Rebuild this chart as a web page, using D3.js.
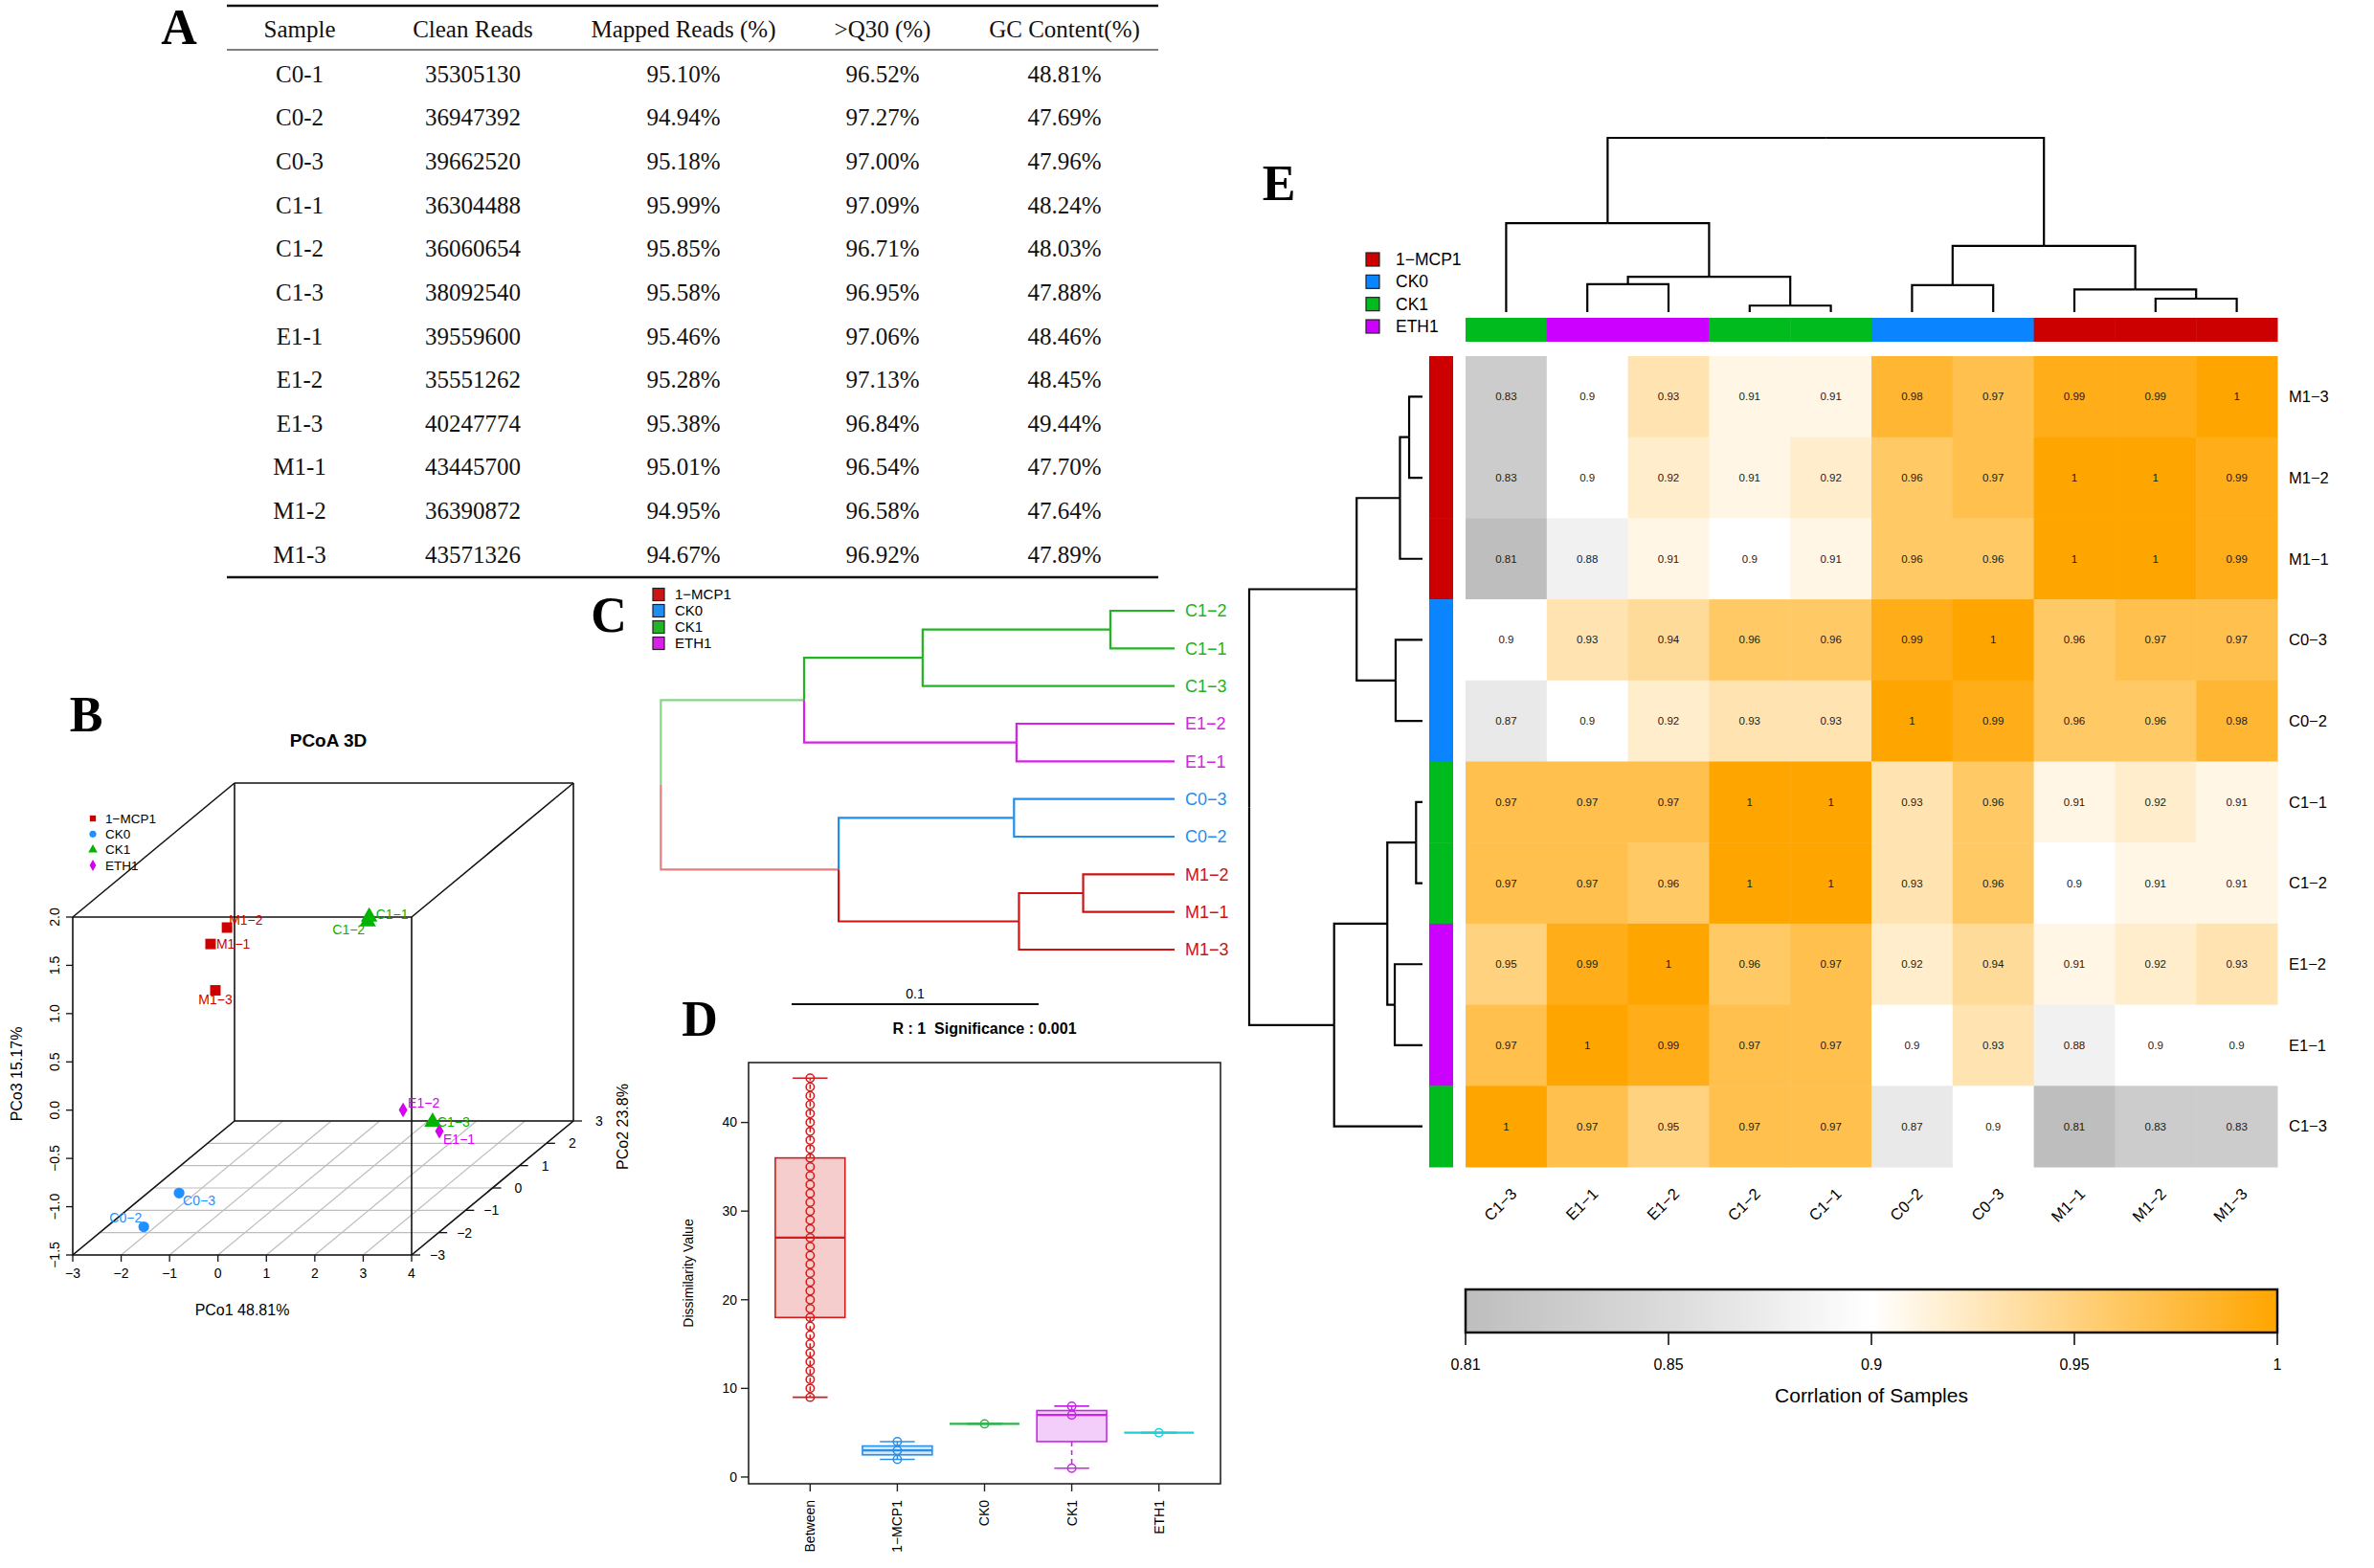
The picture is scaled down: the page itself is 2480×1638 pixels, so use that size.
<!DOCTYPE html>
<html><head><meta charset="utf-8">
<script src="https://cdn.jsdelivr.net/npm/d3@7"></script>
<style>body{margin:0;background:#fff}svg{display:block}</style>
</head><body>
<script>
// ================= DATA =================
// Panel A – sequencing table
const tableHeaders = ["Sample","Clean Reads","Mapped Reads (%)",">Q30 (%)","GC Content(%)"];
const tableSamples = ["C0-1","C0-2","C0-3","C1-1","C1-2","C1-3","E1-1","E1-2","E1-3","M1-1","M1-2","M1-3"];
const cleanReads = [35305130,36947392,39662520,36304488,36060654,38092540,39559600,35551262,40247774,43445700,36390872,43571326];
const mappedReads = [95.10,94.94,95.18,95.99,95.85,95.58,95.46,95.28,95.38,95.01,94.95,94.67];
const q30Rates = [96.52,97.27,97.00,97.09,96.71,96.95,97.06,97.13,96.84,96.54,96.58,96.92];
const gcContent = [48.81,47.69,47.96,48.24,48.03,47.88,48.46,48.45,49.44,47.70,47.64,47.89];

// Groups
const groups = ["1−MCP1","CK0","CK1","ETH1"];
const samplePrefixGroup = {"M1":"1−MCP1","C0":"CK0","C1":"CK1","E1":"ETH1"};

// Panel B – PCoA 3D
const pcoaSamples = ["M1−1","M1−2","M1−3","C0−2","C0−3","C1−1","C1−2","C1−3","E1−1","E1−2"];
const pco1 = [-2.66,-2.32,-2.56,-2.09,-1.36,0.06,0.03,3.04,3.46,2.71];
const pco2 = [1.5,1.5,1.5,-2,-2,2.5,2.5,-0.5,-1,-1];
const pco3 = [0.68,0.85,0.20,-1.44,-1.09,0.73,0.68,-0.70,-0.68,-0.46];
const pco1Ticks = [-3,-2,-1,0,1,2,3,4];
const pco2Ticks = [-3,-2,-1,0,1,2,3];
const pco3Ticks = [-1.5,-1.0,-0.5,0.0,0.5,1.0,1.5,2.0];

// Panel C – sample clustering tree (branch heights in distance units)
const treeC = {h:0.208, children:[
  {h:0.150, children:[
    {h:0.102, children:[{h:0.026, children:[{name:"C1−2"},{name:"C1−1"}]},{name:"C1−3"}]},
    {h:0.064, children:[{name:"E1−2"},{name:"E1−1"}]}
  ]},
  {h:0.136, children:[
    {h:0.065, children:[{name:"C0−3"},{name:"C0−2"}]},
    {h:0.063, children:[{h:0.037, children:[{name:"M1−2"},{name:"M1−1"}]},{name:"M1−3"}]}
  ]}
]};
const scaleBarValue = 0.1;

// Panel D – ANOSIM ranks
const anosimGroups = ["Between","1−MCP1","CK0","CK1","ETH1"];
const rankBetween = [9,10,11,12,13,14,15,16,17,18,19,20,21,22,23,24,25,26,27,28,29,30,31,32,33,34,35,36,37,38,39,40,41,42,43,44,45];
const rankMCP = [2,3,4];
const rankCK0 = [6];
const rankCK1 = [1,7,8];
const rankETH = [5];
const anosimTicks = [0,10,20,30,40];
const anosimTitle = "R : 1  Significance : 0.001";

// Panel E – correlation heatmap
const heatCols = ["C1−3","E1−1","E1−2","C1−2","C1−1","C0−2","C0−3","M1−1","M1−2","M1−3"];
const heatRows = ["M1−3","M1−2","M1−1","C0−3","C0−2","C1−1","C1−2","E1−2","E1−1","C1−3"];
const corrValues = [
  [0.83,0.9,0.93,0.91,0.91,0.98,0.97,0.99,0.99,1],
  [0.83,0.9,0.92,0.91,0.92,0.96,0.97,1,1,0.99],
  [0.81,0.88,0.91,0.9,0.91,0.96,0.96,1,1,0.99],
  [0.9,0.93,0.94,0.96,0.96,0.99,1,0.96,0.97,0.97],
  [0.87,0.9,0.92,0.93,0.93,1,0.99,0.96,0.96,0.98],
  [0.97,0.97,0.97,1,1,0.93,0.96,0.91,0.92,0.91],
  [0.97,0.97,0.96,1,1,0.93,0.96,0.9,0.91,0.91],
  [0.95,0.99,1,0.96,0.97,0.92,0.94,0.91,0.92,0.93],
  [0.97,1,0.99,0.97,0.97,0.9,0.93,0.88,0.9,0.9],
  [1,0.97,0.95,0.97,0.97,0.87,0.9,0.81,0.83,0.83]
];
const colTree = {h:1.0, children:[
  {h:0.51, children:[
    {name:"C1−3"},
    {h:0.203, children:[
      {h:0.16, children:[{name:"E1−1"},{name:"E1−2"}]},
      {h:0.037, children:[{name:"C1−2"},{name:"C1−1"}]}
    ]}
  ]},
  {h:0.38, children:[
    {h:0.155, children:[{name:"C0−2"},{name:"C0−3"}]},
    {h:0.13, children:[{name:"M1−1"},{h:0.077, children:[{name:"M1−2"},{name:"M1−3"}]}]}
  ]}
]};
const rowTree = {h:1.0, children:[
  {h:0.38, children:[
    {h:0.13, children:[{h:0.077, children:[{name:"M1−3"},{name:"M1−2"}]},{name:"M1−1"}]},
    {h:0.155, children:[{name:"C0−3"},{name:"C0−2"}]}
  ]},
  {h:0.51, children:[
    {h:0.203, children:[
      {h:0.037, children:[{name:"C1−1"},{name:"C1−2"}]},
      {h:0.16, children:[{name:"E1−2"},{name:"E1−1"}]}
    ]},
    {name:"C1−3"}
  ]}
]};
const legendTicks = [0.81,0.85,0.9,0.95,1];
const legendTitle = "Corrlation of Samples";

// ================= STYLE =================
const SERIF = "'Liberation Serif','Times New Roman',serif";
const SANS = "'Liberation Sans',Arial,Helvetica,sans-serif";
const colorB = d3.scaleOrdinal(groups, ["#CC0000","#1E90FF","#00B400","#D400F0"]);
const colorC = d3.scaleOrdinal(groups, ["#CC1414","#1E8FF0","#22B422","#D820E8"]);
const colorE = d3.scaleOrdinal(groups, ["#CC0000","#0A85FF","#00BB1E","#CC00FF"]);
const colorD = d3.scaleOrdinal(anosimGroups, ["#D01C1C","#2A8FE8","#2DB34A","#CC22EE","#22CCD6"]);
const symbolB = d3.scaleOrdinal(groups, [d3.symbolSquare, d3.symbolCircle, d3.symbolTriangle, d3.symbolDiamond]);
const symSizeB = d3.scaleOrdinal(groups, [120, 100, 130, 70]);
const groupOf = name => samplePrefixGroup[name.slice(0,2)];

const W = 2480, H = 1638;
const svg = d3.select("body").append("svg").attr("width", W).attr("height", H);
svg.append("rect").attr("width", W).attr("height", H).attr("fill", "#fff");

// panel letters
const letters = [["A",187,46],["B",90,764],["C",636,660],["D",731,1082],["E",1336,209]];
svg.selectAll("text.letter").data(letters).join("text").attr("class","letter")
  .attr("x", d=>d[1]).attr("y", d=>d[2]).attr("text-anchor","middle")
  .attr("font-family", SERIF).attr("font-weight","bold").attr("font-size", 52).text(d=>d[0]);

// ================= PANEL A =================
(function(){
  const g = svg.append("g").attr("font-family", SERIF).attr("font-size", 25).attr("fill","#111");
  const colX = d3.scaleOrdinal(tableHeaders, [313, 494, 714, 922, 1112]);
  const rowY = d3.scalePoint().domain(tableSamples).range([77, 579]);
  const left = 237, right = 1210;
  g.append("line").attr("x1",left).attr("x2",right).attr("y1",6).attr("y2",6).attr("stroke","#111").attr("stroke-width",2.5);
  g.append("line").attr("x1",left).attr("x2",right).attr("y1",52).attr("y2",52).attr("stroke","#555").attr("stroke-width",1.5);
  g.append("line").attr("x1",left).attr("x2",right).attr("y1",603).attr("y2",603).attr("stroke","#111").attr("stroke-width",2.5);
  g.selectAll("text.h").data(tableHeaders).join("text").attr("class","h")
    .attr("x", d=>colX(d)).attr("y", 30).attr("dy","0.35em").attr("text-anchor","middle").text(d=>d);
  const pct = v => d3.format(".2f")(v) + "%";
  const rows = tableSamples.map((s,i)=>[s, String(cleanReads[i]), pct(mappedReads[i]), pct(q30Rates[i]), pct(gcContent[i])]);
  rows.forEach((r,i)=>{
    g.selectAll(null).data(r).join("text")
      .attr("x", (d,j)=>colX(tableHeaders[j])).attr("y", rowY(tableSamples[i])).attr("dy","0.35em")
      .attr("text-anchor","middle").text(d=>d);
  });
})();

// ================= PANEL B =================
(function(){
  const g = svg.append("g").attr("font-family", SANS);
  const xE = d3.extent(pco1Ticks), yE = d3.extent(pco2Ticks), zE = d3.extent(pco3Ticks);
  const bx = d3.scaleLinear().domain(xE).range([76, 430]);
  const bz = d3.scaleLinear().domain(zE).range([1311, 958]);
  const bd = d3.scaleLinear().domain(yE).range([0, 1]);
  const depth = [169, -140];
  const proj = (x,y,z) => { const t = bd(y); return [bx(x) + t*depth[0], bz(z) + t*depth[1]]; };
  const seg = (a,b,stroke,w) => g.append("line").attr("x1",a[0]).attr("y1",a[1]).attr("x2",b[0]).attr("y2",b[1]).attr("stroke",stroke).attr("stroke-width",w);
  const zmin = zE[0];
  // floor grid
  pco2Ticks.forEach(y => seg(proj(xE[0],y,zmin), proj(xE[1],y,zmin), "#BDBDBD", 1.2));
  pco1Ticks.forEach(x => seg(proj(x,yE[0],zmin), proj(x,yE[1],zmin), "#BDBDBD", 1.2));
  // box
  const corners = [];
  for (const x of xE) for (const y of yE) for (const z of zE) corners.push([x,y,z]);
  corners.forEach((a,i)=>corners.forEach((b,j)=>{
    if (j>i && a.filter((v,k)=>v!==b[k]).length===1) seg(proj(...a), proj(...b), "#111", 1.6);
  }));
  // x ticks
  pco1Ticks.forEach(x => {
    const p = proj(x, yE[0], zmin);
    seg(p, [p[0], p[1]+7], "#111", 1.3);
    g.append("text").attr("x",p[0]).attr("y",p[1]+24).attr("text-anchor","middle").attr("font-size",14).text(d3.format("")(x).replace("-","−"));
  });
  // z ticks
  pco3Ticks.forEach(z => {
    const p = proj(xE[0], yE[0], z);
    seg(p, [p[0]-7, p[1]], "#111", 1.3);
    g.append("text").attr("transform",`translate(${p[0]-14},${p[1]}) rotate(-90)`).attr("text-anchor","middle")
      .attr("font-size",14).text(d3.format(".1f")(z));
  });
  // y (depth) ticks
  pco2Ticks.forEach(y => {
    const p = proj(xE[1], y, zmin);
    seg(p, [p[0]+9, p[1]], "#111", 1.3);
    g.append("text").attr("x",p[0]+27).attr("y",p[1]).attr("dy","0.35em").attr("text-anchor","middle").attr("font-size",14)
      .text(d3.format("")(y).replace("-","−"));
  });
  // axis labels and title
  g.append("text").attr("x",253).attr("y",1374).attr("text-anchor","middle").attr("font-size",16).text("PCo1 48.81%");
  g.append("text").attr("transform","translate(23,1122) rotate(-90)").attr("text-anchor","middle").attr("font-size",16).text("PCo3 15.17%");
  g.append("text").attr("transform","translate(656,1177) rotate(-90)").attr("text-anchor","middle").attr("font-size",16).text("PCo2 23.8%");
  g.append("text").attr("x",343).attr("y",780).attr("text-anchor","middle").attr("font-size",19).attr("font-weight","bold").text("PCoA 3D");
  // points
  const labelPos = {"M1−1":[6,5,"start"],"M1−2":[2,-3,"start"],"M1−3":[0,14,"middle"],"C0−2":[-2,-5,"end"],"C0−3":[4,13,"start"],
    "C1−1":[7,2,"start"],"C1−2":[-3,13,"end"],"C1−3":[5,5,"start"],"E1−1":[4,13,"start"],"E1−2":[5,-2,"start"]};
  const pts = pcoaSamples.map((s,i)=>({name:s, grp:groupOf(s), p:proj(pco1[i],pco2[i],pco3[i])}));
  g.selectAll("path.pt").data(pts).join("path").attr("class","pt")
    .attr("transform", d=>`translate(${d.p[0]},${d.p[1]})`)
    .attr("d", d=>d3.symbol(symbolB(d.grp), symSizeB(d.grp))()).attr("fill", d=>colorB(d.grp));
  g.selectAll("text.pl").data(pts).join("text").attr("class","pl")
    .attr("x", d=>d.p[0]+labelPos[d.name][0]).attr("y", d=>d.p[1]+labelPos[d.name][1])
    .attr("text-anchor", d=>labelPos[d.name][2]).attr("font-size",14).attr("fill", d=>colorB(d.grp)).text(d=>d.name);
  // legend
  const ly = d3.scalePoint().domain(groups).range([855, 904]);
  g.selectAll("path.lg").data(groups).join("path").attr("class","lg")
    .attr("transform", d=>`translate(97,${ly(d)})`).attr("d", d=>d3.symbol(symbolB(d), 40)()).attr("fill", d=>colorB(d));
  g.selectAll("text.lg").data(groups).join("text").attr("class","lg")
    .attr("x",110).attr("y", d=>ly(d)).attr("dy","0.35em").attr("font-size",13.5).text(d=>d);
})();

// ================= DENDROGRAM HELPER =================
function layoutDendro(root, leafPos, hPos){
  root.eachAfter(n=>{
    if (!n.children) { n.p = leafPos(n.data.name); n.q = hPos(0); }
    else { n.p = (n.children[0].p + n.children[n.children.length-1].p)/2; n.q = hPos(n.data.h); }
  });
}

// ================= PANEL C =================
(function(){
  const g = svg.append("g").attr("font-family", SANS);
  const root = d3.hierarchy(treeC);
  const leaves = root.leaves().map(d=>d.data.name);
  const ly = d3.scalePoint().domain(leaves).range([638, 992]);
  const hx = d3.scaleLinear().domain([0, scaleBarValue]).range([1227, 969]);
  layoutDendro(root, ly, hx);
  const nodeColor = n => {
    const counts = d3.rollups(n.leaves(), v=>v.length, d=>groupOf(d.data.name));
    if (counts.length === 1) return colorC(counts[0][0]);
    const maj = d3.greatest(counts, d=>d[1])[0];
    return d3.interpolateRgb(colorC(maj), "#fff")(0.45);
  };
  root.each(n=>{
    if (!n.children) return;
    n.children.forEach(c=>{
      g.append("path").attr("d", `M${n.q},${n.p}V${c.p}H${c.q}`).attr("fill","none")
        .attr("stroke", nodeColor(c)).attr("stroke-width", 2.2);
    });
  });
  g.selectAll("text.leaf").data(root.leaves()).join("text").attr("class","leaf")
    .attr("x", d=>d.q + 11).attr("y", d=>d.p).attr("dy","0.35em").attr("font-size",18)
    .attr("fill", d=>colorC(groupOf(d.data.name))).text(d=>d.data.name);
  // legend
  const lg = d3.scalePoint().domain(groups).range([621, 672]);
  g.selectAll("rect.lg").data(groups).join("rect").attr("class","lg")
    .attr("x",682).attr("y", d=>lg(d)-6.5).attr("width",12).attr("height",13)
    .attr("fill", d=>colorC(d)).attr("stroke","#222").attr("stroke-width",1.2);
  g.selectAll("text.lg").data(groups).join("text").attr("class","lg")
    .attr("x",705).attr("y", d=>lg(d)).attr("dy","0.35em").attr("font-size",15).text(d=>d);
  // scale bar
  const x0 = 827, len = hx(0) - hx(scaleBarValue);
  g.append("line").attr("x1",x0).attr("x2",x0+len).attr("y1",1049).attr("y2",1049).attr("stroke","#111").attr("stroke-width",2);
  g.append("text").attr("x",x0+len/2).attr("y",1043).attr("text-anchor","middle").attr("font-size",14).text(String(scaleBarValue));
})();

// ================= PANEL D =================
(function(){
  const g = svg.append("g").attr("font-family", SANS);
  const data = [rankBetween, rankMCP, rankCK0, rankCK1, rankETH];
  const all = data.flat();
  const ext = d3.extent(all), pad = 0.04*(ext[1]-ext[0]);
  const left = 782, right = 1275, top = 1110, bottom = 1550;
  const x = d3.scalePoint().domain(anosimGroups).range([left, right]).padding(0.706);
  const y = d3.scaleLinear().domain([ext[0]-pad, ext[1]+pad]).range([bottom, top]);
  const bw = x.step()*0.8;
  function fivenum(a){
    const s = a.slice().sort(d3.ascending), n = s.length;
    const n4 = Math.floor((n+3)/2)/2;
    return [1, n4, (n+1)/2, n+1-n4, n].map(v=>0.5*(s[Math.floor(v)-1] + s[Math.ceil(v)-1]));
  }
  anosimGroups.forEach((grp,i)=>{
    const vals = data[i], f = fivenum(vals), cx = x(grp), col = colorD(grp);
    const iqr = f[3]-f[1];
    const lo = d3.min(vals.filter(v=>v >= f[1]-1.5*iqr)), hi = d3.max(vals.filter(v=>v <= f[3]+1.5*iqr));
    g.append("line").attr("x1",cx).attr("x2",cx).attr("y1",y(f[3])).attr("y2",y(hi)).attr("stroke",col).attr("stroke-width",1.6).attr("stroke-dasharray","5,4");
    g.append("line").attr("x1",cx).attr("x2",cx).attr("y1",y(f[1])).attr("y2",y(lo)).attr("stroke",col).attr("stroke-width",1.6).attr("stroke-dasharray","5,4");
    g.append("rect").attr("x",cx-bw/2).attr("width",bw).attr("y",y(f[3])).attr("height",Math.max(0,y(f[1])-y(f[3])))
      .attr("fill", d3.interpolateRgb(col,"#fff")(0.78)).attr("stroke",col).attr("stroke-width",1.6);
    g.append("line").attr("x1",cx-bw/2).attr("x2",cx+bw/2).attr("y1",y(f[2])).attr("y2",y(f[2])).attr("stroke",col).attr("stroke-width",2.2);
    [lo,hi].forEach(v=>g.append("line").attr("x1",cx-bw/4).attr("x2",cx+bw/4).attr("y1",y(v)).attr("y2",y(v)).attr("stroke",col).attr("stroke-width",1.6));
    g.selectAll(null).data(vals).join("circle").attr("cx",cx).attr("cy",v=>y(v)).attr("r",4.2)
      .attr("fill","none").attr("stroke",col).attr("stroke-width",1.5);
  });
  g.append("rect").attr("x",left).attr("y",top).attr("width",right-left).attr("height",bottom-top)
    .attr("fill","none").attr("stroke","#222").attr("stroke-width",1.6);
  anosimTicks.forEach(t=>{
    g.append("line").attr("x1",left).attr("x2",left-8).attr("y1",y(t)).attr("y2",y(t)).attr("stroke","#222").attr("stroke-width",1.4);
    g.append("text").attr("x",left-12).attr("y",y(t)).attr("dy","0.35em").attr("text-anchor","end").attr("font-size",14).text(t);
  });
  anosimGroups.forEach(grp=>{
    g.append("line").attr("x1",x(grp)).attr("x2",x(grp)).attr("y1",bottom).attr("y2",bottom+8).attr("stroke","#222").attr("stroke-width",1.4);
    g.append("text").attr("transform",`translate(${x(grp)},${bottom+17}) rotate(-90)`).attr("dy","0.35em")
      .attr("text-anchor","end").attr("font-size",14).text(grp);
  });
  g.append("text").attr("transform",`translate(724,${(top+bottom)/2}) rotate(-90)`).attr("text-anchor","middle").attr("font-size",14).text("Dissimilarity Value");
  g.append("text").attr("x",(left+right)/2).attr("y",1080).attr("text-anchor","middle").attr("font-size",16).attr("font-weight","bold")
    .attr("xml:space","preserve").style("white-space","pre").text(anosimTitle);
})();

// ================= PANEL E =================
(function(){
  const g = svg.append("g").attr("font-family", SANS);
  const hxs = d3.scaleBand().domain(heatCols).range([1531, 2379]);
  const hys = d3.scaleBand().domain(heatRows).range([372, 1219]);
  const corrColor = d3.scaleLinear().domain([0.81, 0.9, 1]).range(["#BEBEBE","#FFFFFF","#FFA500"]);
  // cells
  heatRows.forEach((r,i)=>{
    heatCols.forEach((c,j)=>{
      const v = corrValues[i][j];
      g.append("rect").attr("x",hxs(c)).attr("y",hys(r)).attr("width",hxs.bandwidth()+0.5).attr("height",hys.bandwidth()+0.5).attr("fill",corrColor(v));
      g.append("text").attr("x",hxs(c)+hxs.bandwidth()/2).attr("y",hys(r)+hys.bandwidth()/2).attr("dy","0.35em")
        .attr("text-anchor","middle").attr("font-size",11.5).attr("fill","#1a1a1a").text(String(v));
    });
  });
  // annotation bars
  g.selectAll("rect.ca").data(heatCols).join("rect").attr("class","ca")
    .attr("x", d=>hxs(d)).attr("y",332).attr("width",hxs.bandwidth()+0.5).attr("height",25).attr("fill", d=>colorE(groupOf(d)));
  g.selectAll("rect.ra").data(heatRows).join("rect").attr("class","ra")
    .attr("x",1493).attr("y", d=>hys(d)).attr("width",25).attr("height",hys.bandwidth()+0.5).attr("fill", d=>colorE(groupOf(d)));
  // row labels
  g.selectAll("text.rl").data(heatRows).join("text").attr("class","rl")
    .attr("x",2391).attr("y", d=>hys(d)+hys.bandwidth()/2).attr("dy","0.35em").attr("font-size",16.5).text(d=>d);
  // column labels
  g.selectAll("text.cl").data(heatCols).join("text").attr("class","cl")
    .attr("transform", d=>`translate(${hxs(d)+hxs.bandwidth()/2+4},1240) rotate(-45)`).attr("dy","0.7em")
    .attr("text-anchor","end").attr("font-size",16.5).text(d=>d);
  // column dendrogram
  const cRoot = d3.hierarchy(colTree);
  layoutDendro(cRoot, n=>hxs(n)+hxs.bandwidth()/2, d3.scaleLinear().domain([0, colTree.h]).range([326, 144]));
  cRoot.each(n=>{ if(!n.children) return; n.children.forEach(c=>{
    g.append("path").attr("d",`M${n.p},${n.q}H${c.p}V${c.q}`).attr("fill","none").attr("stroke","#000").attr("stroke-width",2.2);
  });});
  // row dendrogram
  const rRoot = d3.hierarchy(rowTree);
  layoutDendro(rRoot, n=>hys(n)+hys.bandwidth()/2, d3.scaleLinear().domain([0, rowTree.h]).range([1486, 1305]));
  rRoot.each(n=>{ if(!n.children) return; n.children.forEach(c=>{
    g.append("path").attr("d",`M${n.q},${n.p}V${c.p}H${c.q}`).attr("fill","none").attr("stroke","#000").attr("stroke-width",2.2);
  });});
  // group legend
  const lg = d3.scalePoint().domain(groups).range([271, 341]);
  g.selectAll("rect.lg").data(groups).join("rect").attr("class","lg")
    .attr("x",1427).attr("y", d=>lg(d)-7).attr("width",14).attr("height",14)
    .attr("fill", d=>colorE(d)).attr("stroke","#222").attr("stroke-width",1.2);
  g.selectAll("text.lg").data(groups).join("text").attr("class","lg")
    .attr("x",1458).attr("y", d=>lg(d)).attr("dy","0.35em").attr("font-size",17.5).text(d=>d);
  // colour bar
  const bx0 = 1531, bx1 = 2379, by0 = 1347, by1 = 1392;
  const tickPos = d3.scalePoint().domain(legendTicks).range([bx0, bx1]);
  const poly = d3.scaleLinear().domain(legendTicks).range(legendTicks.map(t=>tickPos(t)));
  const defs = svg.append("defs");
  const grad = defs.append("linearGradient").attr("id","corrGrad").attr("x1","0%").attr("x2","100%").attr("y1","0%").attr("y2","0%");
  d3.range(0, 101).forEach(k=>{
    const px = bx0 + (bx1-bx0)*k/100;
    grad.append("stop").attr("offset", k+"%").attr("stop-color", corrColor(poly.invert(px)));
  });
  g.append("rect").attr("x",bx0).attr("y",by0).attr("width",bx1-bx0).attr("height",by1-by0)
    .attr("fill","url(#corrGrad)").attr("stroke","#111").attr("stroke-width",2.5);
  legendTicks.forEach(t=>{
    g.append("line").attr("x1",poly(t)).attr("x2",poly(t)).attr("y1",by1).attr("y2",by1+13).attr("stroke","#111").attr("stroke-width",1.6);
    g.append("text").attr("x",poly(t)).attr("y",1431).attr("text-anchor","middle").attr("font-size",16).text(String(t));
  });
  g.append("text").attr("x",(bx0+bx1)/2).attr("y",1465).attr("text-anchor","middle").attr("font-size",21).text(legendTitle);
})();
</script>
</body></html>
